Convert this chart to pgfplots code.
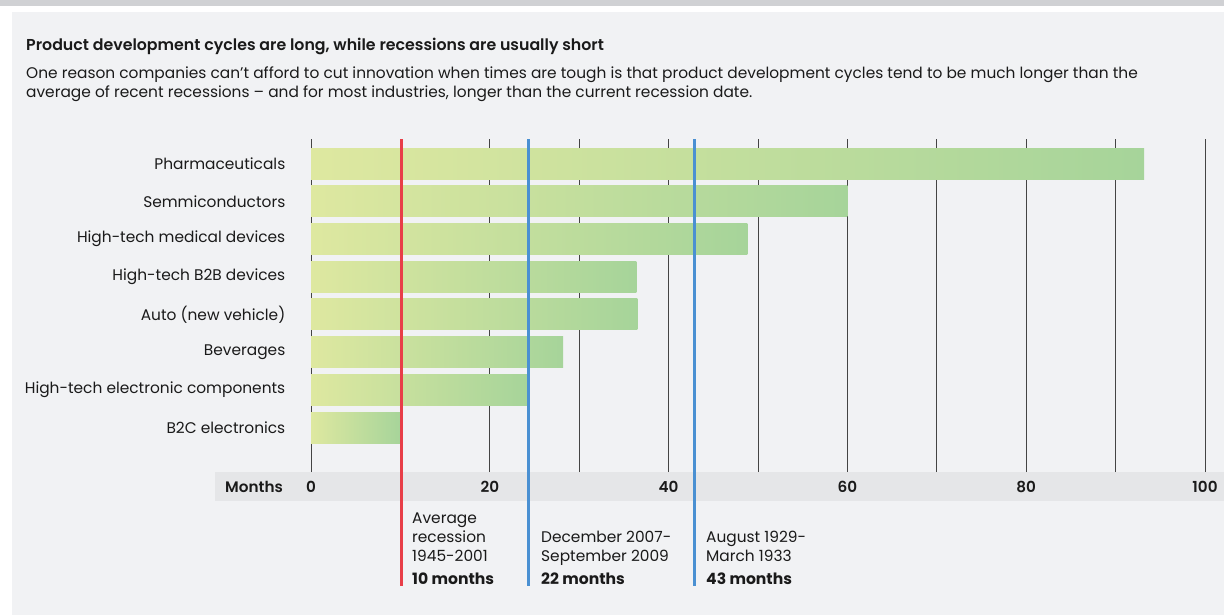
\documentclass[border=0pt]{standalone}
\usepackage{pgfplots}
\pgfplotsset{compat=1.18}
\usepackage{fontspec}
\setmainfont{Poppins}
\newfontfamily\medfont{Poppins SemiBold}
\definecolor{bg}{HTML}{F1F2F4}
\definecolor{bandc}{HTML}{E5E6E8}
\definecolor{topbar}{HTML}{D0D1D4}
\definecolor{gridc}{HTML}{444444}
\definecolor{recred}{RGB}{232,62,72}
\definecolor{recblue}{RGB}{74,144,210}
\definecolor{barL}{RGB}{222,232,160}
\definecolor{barR}{RGB}{166,212,154}
\definecolor{txt}{HTML}{1A1A1A}
\newcommand\reg{\fontsize{15.4}{18}\selectfont}
\begin{document}
\begin{tikzpicture}[x=1pt,y=1pt]
\fill[white] (0,0) rectangle (1224,-615);
\fill[bg] (12,-12) rectangle (1224,-615);
\fill[topbar] (0,0) rectangle (1224,-6);
\fill[bandc] (215,-472) rectangle (1224,-501);
\node[anchor=base west, inner sep=0pt, text=txt, font=\fontsize{15.8}{18}\selectfont\medfont] at (26,-51) {Product development cycles are long, while recessions are usually short};
\node[anchor=base west, inner sep=0pt, text=txt, font=\reg] at (26,-79) {One reason companies can't afford to cut innovation when times are tough is that product development cycles tend to be much longer than the};
\node[anchor=base west, inner sep=0pt, text=txt, font=\reg] at (26,-98) {average of recent recessions -- and for most industries, longer than the current recession date.};
\node[anchor=base west, inner sep=0pt, text=txt, font=\fontsize{15.2}{18}\selectfont\medfont] at (225,-492) {Months};
\begin{axis}[
  at={(311pt,-472pt)}, anchor=south west,
  scale only axis, width=894pt, height=333pt,
  xmin=0, xmax=100, ymin=-1.175, ymax=7.65,
  clip=false,
  axis line style={draw=none},
  major tick length=0pt,
  xtick={0,10,...,100},
  xticklabels={0,,20,,40,,60,,80,,100},
  xmajorgrids,
  grid style={gridc, line width=0.8pt},
  ytick={0,...,7},
  yticklabels={B2C electronics,High-tech electronic components,Beverages,Auto (new vehicle),High-tech B2B devices,High-tech medical devices,Semmiconductors,Pharmaceuticals},
  yticklabel style={anchor=east, inner sep=0pt, xshift=-25.5pt, text=txt, font=\reg},
  xticklabel style={anchor=base, inner sep=0pt, yshift=-20pt, text=txt, font=\fontsize{15.2}{18}\selectfont\medfont},
  mybar/.style={xbar, bar width=0.82, draw=none, left color=barL, right color=barR},
]
\addplot[mybar] coordinates {(10.1,0)};
\addplot[mybar] coordinates {(24.4,1)};
\addplot[mybar] coordinates {(28.2,2)};
\addplot[mybar] coordinates {(36.5,3)};
\addplot[mybar] coordinates {(36.4,4)};
\addplot[mybar] coordinates {(48.8,5)};
\addplot[mybar] coordinates {(60.0,6)};
\addplot[mybar] coordinates {(93.2,7)};
\addplot[recred, line width=2.6pt] coordinates {(10.15,7.65) (10.15,-4.19)};
\addplot[recblue, line width=2.4pt] coordinates {(24.35,7.65) (24.35,-4.19)};
\addplot[recblue, line width=2.4pt] coordinates {(42.9,7.65) (42.9,-4.19)};
\end{axis}
\begin{scope}[every node/.style={anchor=base west, inner sep=0pt, text=txt, font=\reg}]
\node at (412,-523) {Average};
\node at (412,-542) {recession};
\node at (412,-561) {1945-2001};
\node[font=\fontsize{15.6}{18}\selectfont\bfseries] at (412,-584) {10 months};
\node at (541,-542) {December 2007-};
\node at (541,-561) {September 2009};
\node[font=\fontsize{15.6}{18}\selectfont\bfseries] at (541,-584) {22 months};
\node at (706,-542) {August 1929-};
\node at (706,-561) {March 1933};
\node[font=\fontsize{15.6}{18}\selectfont\bfseries] at (706,-584) {43 months};
\end{scope}
\pgfresetboundingbox
\path[use as bounding box] (0,0) rectangle (1224,-615);
\end{tikzpicture}
\end{document}
